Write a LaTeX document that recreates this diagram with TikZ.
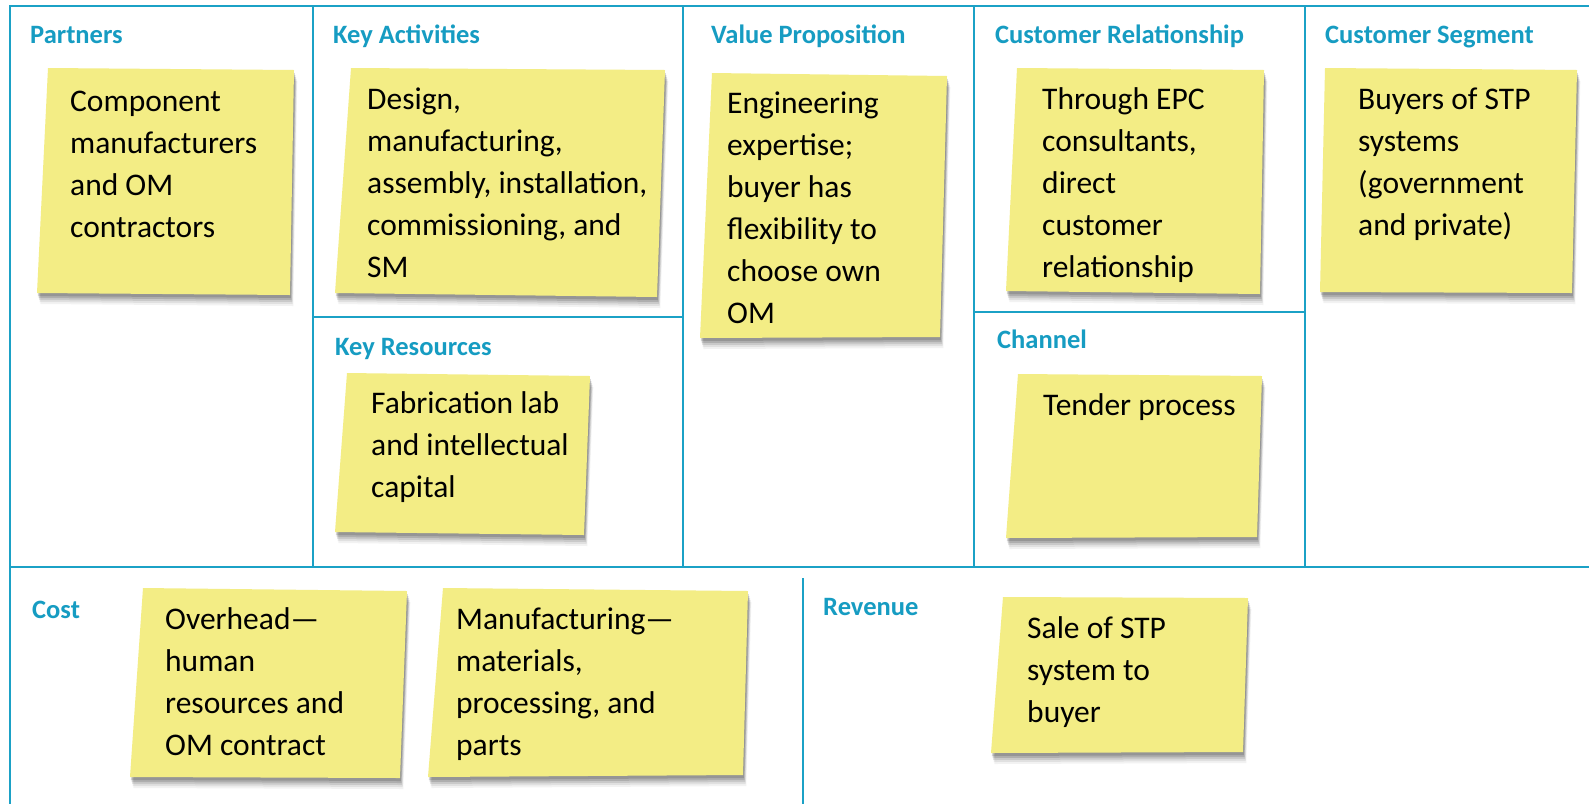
\documentclass[tikz,border=0pt]{standalone}
\usepackage{fontspec}
\setmainfont{Carlito}
\definecolor{canvasblue}{RGB}{27,161,198}
\definecolor{headblue}{RGB}{22,156,194}
\definecolor{noteyellow}{RGB}{243,237,133}
\tikzset{
  heading/.style={anchor=base west, inner sep=0pt, text=headblue,
                  font=\fontsize{26.5}{32}\selectfont\bfseries},
  notetext/.style={anchor=base west, inner sep=0pt, align=left,
                   font=\fontsize{31.5}{42}\selectfont},
  grid/.style={draw=canvasblue, line width=1.4pt},
  frame/.style={draw=canvasblue, line width=2.2pt},
}
% sticky note: corners top left, top right, bottom right, bottom left
\newcommand{\postit}[4]{%
  \foreach \d/\o in {11/0.05,9/0.07,7/0.10,5/0.13,3/0.14}
    \fill[black, opacity=\o, shift={(\d*0.3,\d)}] #1 -- #2 -- #3 -- #4 -- cycle;
  \fill[noteyellow] #1 -- #2 -- #3 -- #4 -- cycle;
}

\begin{document}
\begin{tikzpicture}[x=1pt, y=-1pt]
  \useasboundingbox[fill=white] (0,0) rectangle (1589,804);

  % canvas grid
  \draw[frame] (1589,6) -- (10,6) -- (10,804);
  \draw[frame] (10,567) -- (1589,567);
  \draw[grid]  (313,6) -- (313,567)
               (683,6) -- (683,567)
               (974,6) -- (974,567)
               (1305,6) -- (1305,567);
  \draw[grid]  (313,317) -- (683,317)
               (974,312) -- (1305,312);
  \draw[frame] (803,578) -- (803,804);

  % notes
  \postit{(48,68)}{(294,70)}{(290,295)}{(37,293)}
  \postit{(351,68)}{(665,70)}{(657,297)}{(335,293)}
  \postit{(347,373)}{(590,376)}{(584,535)}{(335,532)}
  \postit{(712,73)}{(947,76)}{(940,337)}{(700,338)}
  \postit{(1017,68)}{(1264,70)}{(1260,294)}{(1006,291)}
  \postit{(1325,68)}{(1577,70)}{(1572,293)}{(1320,292)}
  \postit{(1018,374)}{(1262,376)}{(1257,537)}{(1006,538)}
  \postit{(143,588)}{(407,591)}{(400,778)}{(130,777)}
  \postit{(443,588)}{(748,591)}{(743,775)}{(428,777)}
  \postit{(1003,597)}{(1248,598)}{(1243,752)}{(991,753)}

  % headings
  \node[heading] (partners) at (30,43)   {Partners};
  \node[heading] (keyact)   at (333,43)  {Key Activities};
  \node[heading] (valprop)  at (711,43)  {Value Proposition};
  \node[heading] (custrel)  at (995,43)  {Customer Relationship};
  \node[heading] (custseg)  at (1325,43) {Customer Segment};
  \node[heading] (keyres)   at (335,355) {Key Resources};
  \node[heading] (channel)  at (997,348) {Channel};
  \node[heading] (cost)     at (32,618)  {Cost};
  \node[heading] (revenue)  at (823,615) {Revenue};

  % note texts (placed at last baseline)
  \node[notetext] (partnersTxt) at (70,237)   {Component\\manufacturers\\and OM\\contractors};
  \node[notetext] (keyactTxt)   at (367,277)  {Design,\\manufacturing,\\assembly, installation,\\commissioning, and\\SM};
  \node[notetext] (keyresTxt)   at (371,497)  {Fabrication lab\\and intellectual\\capital};
  \node[notetext] (valpropTxt)  at (727,323)  {Engineering\\expertise;\\buyer has\\flexibility to\\choose own\\OM};
  \node[notetext] (custrelTxt)  at (1042,277) {Through EPC\\consultants,\\direct\\customer\\relationship};
  \node[notetext] (custsegTxt)  at (1358,235) {Buyers of STP\\systems\\(government\\and private)};
  \node[notetext] (channelTxt)  at (1043,415) {Tender process};
  \node[notetext] (overheadTxt) at (165,755)  {Overhead\textemdash\\human\\resources and\\OM contract};
  \node[notetext] (manufTxt)    at (456,755)  {Manufacturing\textemdash\\materials,\\processing, and\\parts};
  \node[notetext] (revenueTxt)  at (1027,722) {Sale of STP\\system to\\buyer};
\end{tikzpicture}
\end{document}
